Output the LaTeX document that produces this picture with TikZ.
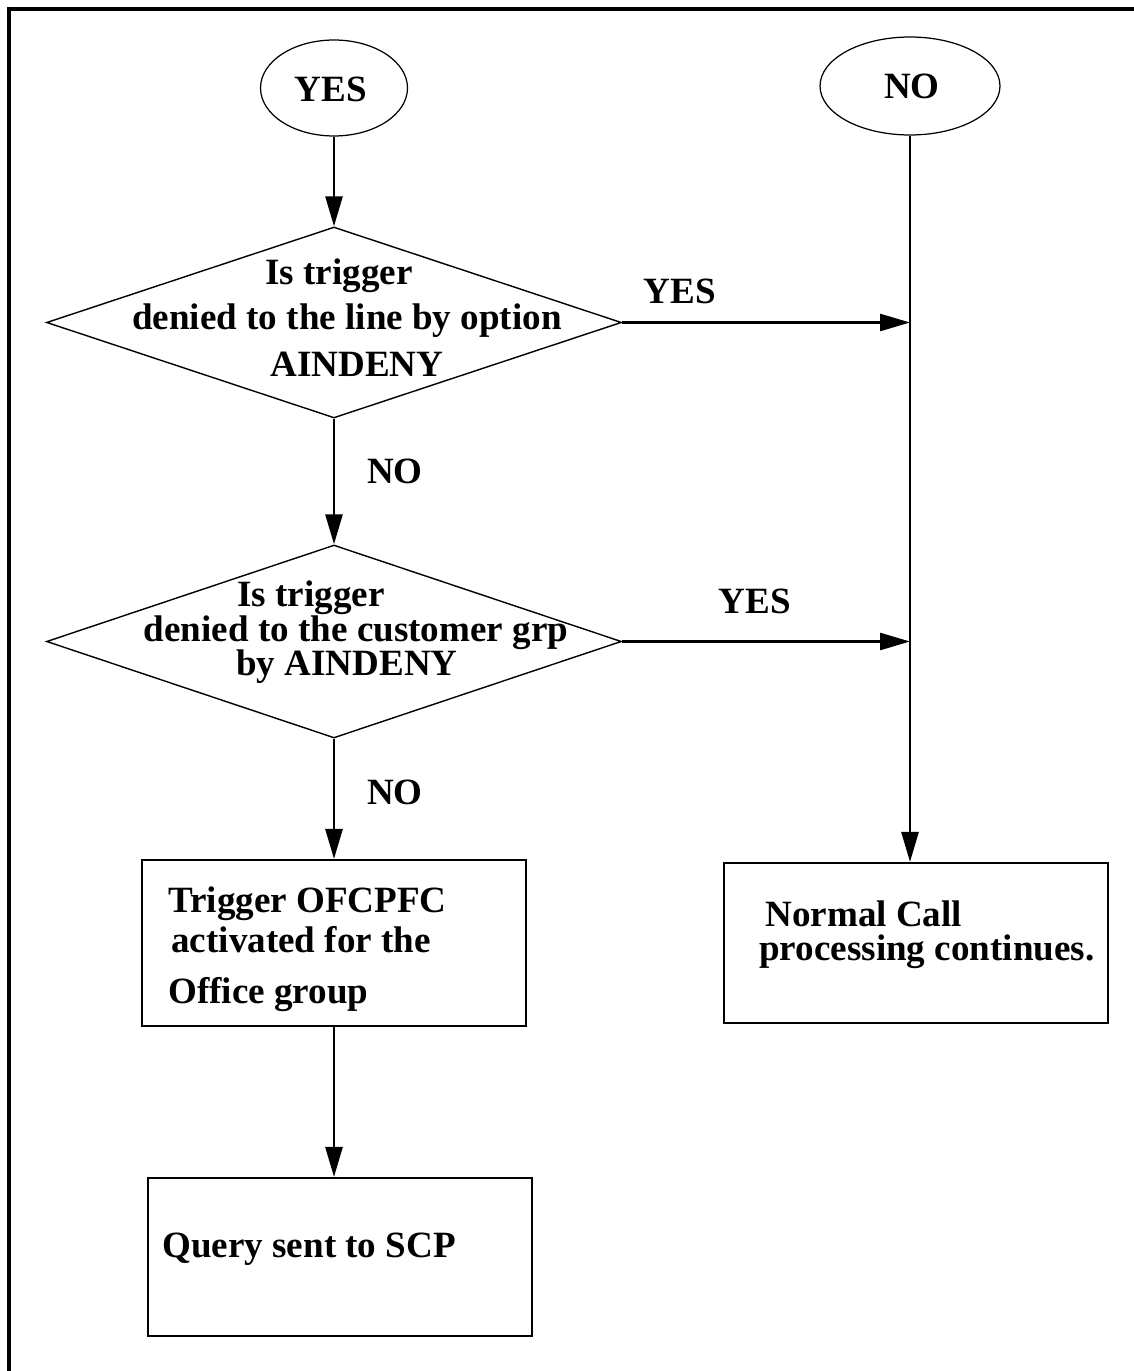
\documentclass[tikz,border=0pt]{standalone}
\usepackage{fontspec}
\setmainfont{Liberation Serif}
\usetikzlibrary{shapes.geometric,arrows.meta}
\begin{document}
\begin{tikzpicture}[x=0.02cm,y=-0.02cm,
  txt/.style={font=\fontsize{21.1}{24}\selectfont\bfseries, inner sep=0pt},
  arr/.style={line width=1.5pt, -{Triangle[length=0.6cm,width=0.34cm]}},
  terminal/.style={ellipse, draw, line width=0.7pt, inner sep=0pt},
  decision/.style={diamond, draw, line width=0.8pt, inner sep=0pt,
                   minimum width=11.5cm},
  procbox/.style={rectangle, draw, line width=1.2pt, inner sep=0pt,
                  minimum width=7.68cm}]
\useasboundingbox (0,0) rectangle (1133,1371);
\fill[white] (0,0) rectangle (1133,1371);
% open frame: top and left edges only
\draw[line width=1.8pt] (1145,9) -- (9,9) -- (9,1385);

% terminals
\node[terminal, minimum width=2.94cm, minimum height=1.92cm] (yes) at (334,88) {};
\node[txt, anchor=base] (yest) at (331,102) {YES};
\node[terminal, minimum width=3.6cm, minimum height=1.96cm] (no) at (910,86) {};
\node[txt, anchor=base] (not) at (912,99) {NO};

% decisions
\node[decision, minimum height=3.82cm] (d1) at (334,322.5) {};
\node[txt, anchor=base] (d1a) at (339,285) {Is trigger};
\node[txt, anchor=base] (d1b) at (347,330) {denied to the line by option};
\node[txt, anchor=base] (d1c) at (357,377) {AINDENY};

\node[decision, minimum height=3.86cm] (d2) at (334,641.5) {};
\node[txt, anchor=base] (d2a) at (311,606) {Is trigger};
\node[txt, anchor=base] (d2b) at (356,641) {denied to the customer grp};
\node[txt, anchor=base] (d2c) at (347,675) {by AINDENY};

% process boxes
\node[procbox, minimum height=3.32cm] (b1) at (334,943) {};
\node[txt, anchor=base west] (b1a) at (168,912) {Trigger OFCPFC};
\node[txt, anchor=base west] (b1b) at (171,952) {activated for the};
\node[txt, anchor=base west] (b1c) at (168,1003) {Office group};

\node[procbox, minimum height=3.16cm] (b2) at (340,1257) {};
\node[txt, anchor=base west] (b2a) at (162,1257) {Query sent to SCP};

\node[procbox, minimum height=3.2cm] (b3) at (916,943) {};
\node[txt, anchor=base west] (b3a) at (765,926) {Normal Call};
\node[txt, anchor=base west] (b3b) at (759,960) {processing continues.};

% branch labels
\node[txt, anchor=base] (l1) at (680,304) {YES};
\node[txt, anchor=base] (l2) at (395,483) {NO};
\node[txt, anchor=base] (l3) at (755,613) {YES};
\node[txt, anchor=base] (l4) at (395,804) {NO};

% connectors
\draw[arr] (yes) -- (d1);
\draw[arr] (d1) -- (d2);
\draw[arr] (d2.south) -- (d2.south |- b1.north);
\draw[arr] (b1.south) -- (b1.south |- b2.north);
\draw[arr] (no.south) -- (no.south |- b3.north);
\draw[arr] (d1.east) -- (d1.east -| no.south);
\draw[arr] (d2.east) -- (d2.east -| no.south);
\end{tikzpicture}
\end{document}
